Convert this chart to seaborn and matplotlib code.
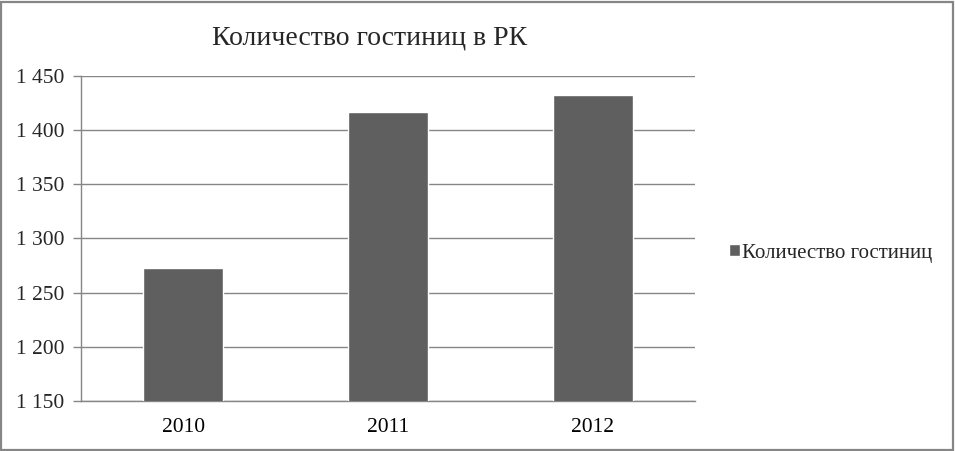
import numpy as np
import pandas as pd
import matplotlib
matplotlib.use('Agg')
import matplotlib.pyplot as plt
import matplotlib.ticker as mticker
from matplotlib.patches import Rectangle
import seaborn as sns

#Data
years = ['2010', '2011', '2012']
hotels = [1273, 1417, 1432]
series_name = 'Количество гостиниц'
title = 'Количество гостиниц в РК'

df = pd.DataFrame({'year': years, 'hotels': hotels})

sns.set_style('white')
plt.rcParams['font.family'] = ['Liberation Serif', 'DejaVu Serif']

fig = plt.figure(figsize=(9.55, 4.51), dpi=100)
ax = fig.add_axes([0.0848, 0.1109, 0.643, 0.7206])

grid_c = '#868686'
bar_c = '#5f5f5f'
fs = 15.5

sns.barplot(data=df, x='year', y='hotels', color=bar_c, width=0.39,
            saturation=1, ax=ax, label=series_name, zorder=3)

ax.set_ylim(1150, 1450)
ax.set_xlim(-0.5, 2.5)
ax.yaxis.set_major_locator(mticker.MultipleLocator(50))
ax.yaxis.set_major_formatter(mticker.FuncFormatter(lambda v, p: f'{int(v):,}'.replace(',', ' ')))
ax.grid(axis='y', color=grid_c, lw=1, zorder=0)
ax.set_axisbelow(True)

#Tick marks between categories like Excel
ax.set_xticks([-0.5, 0.5, 1.5, 2.5], minor=True)
ax.tick_params(axis='x', which='major', length=0, labelsize=fs, pad=12, colors='black')
ax.tick_params(axis='x', which='minor', length=4, width=1, color=grid_c, direction='out')
ax.tick_params(axis='y', which='major', length=6, width=1, color=grid_c, direction='out',
               labelsize=fs, pad=6, left=True)

for s in ['top', 'right']:
    ax.spines[s].set_visible(False)
for s in ['left', 'bottom']:
    ax.spines[s].set_color(grid_c)
    ax.spines[s].set_linewidth(1)

ax.set_xlabel('')
ax.set_ylabel('')

fig.text(0.387, 0.915, title, ha='center', va='center', fontsize=20)

#Move the legend out to the figure, drop the one seaborn put on the axes
handles, labels = ax.get_legend_handles_labels()
if ax.get_legend() is not None:
    ax.get_legend().remove()
fig.legend(handles, labels, loc='center left', bbox_to_anchor=(0.763, 0.439), frameon=False,
           fontsize=15, handlelength=0.55, handleheight=0.55, handletextpad=0.1,
           borderpad=0, borderaxespad=0)

#Outer border of the chart area
fig.patches.append(Rectangle((0.0015, 0.0025), 0.9965, 0.994, transform=fig.transFigure,
                             fill=False, edgecolor='#868686', lw=1.6))

fig.savefig('out.png', dpi=100)
